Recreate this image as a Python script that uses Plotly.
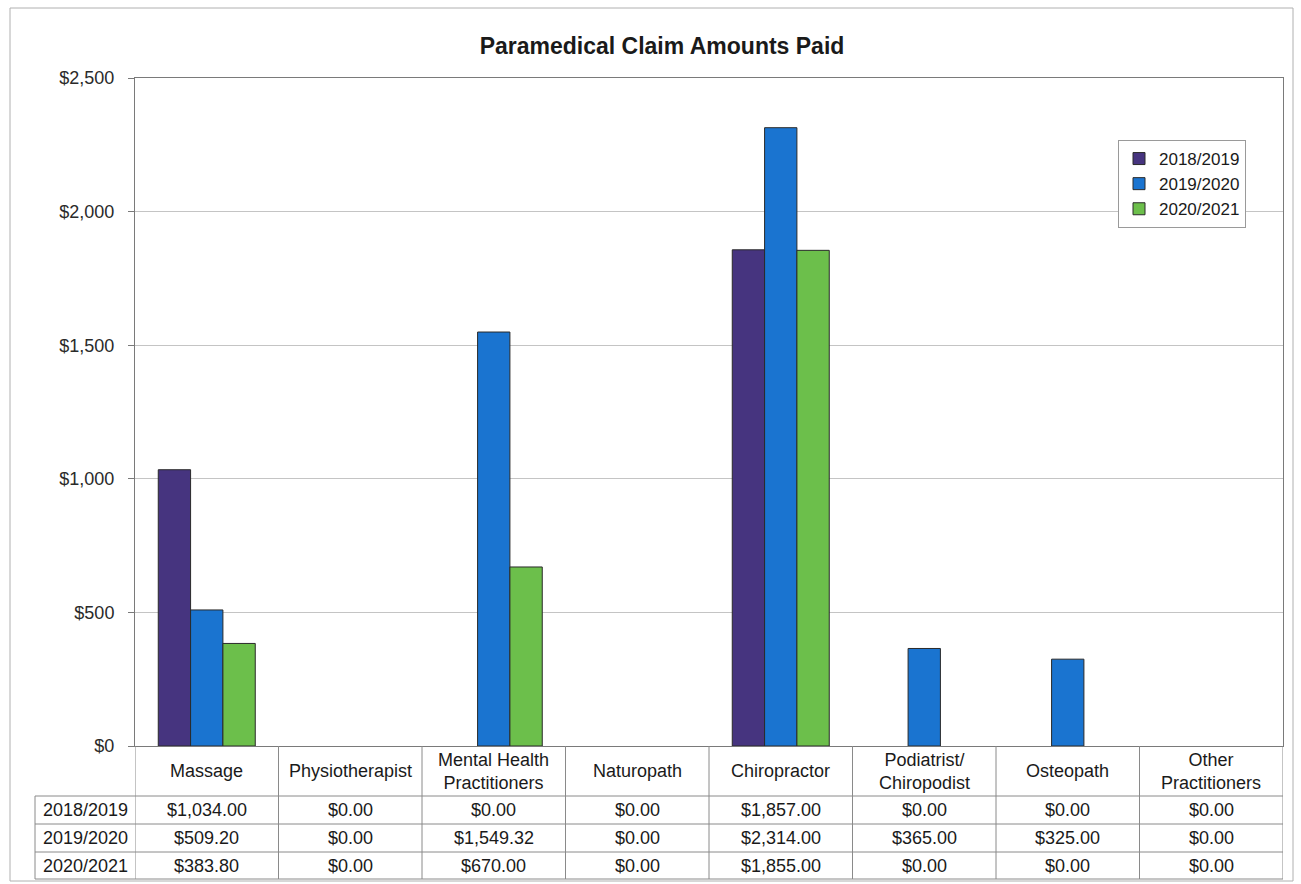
import plotly.graph_objects as go

categories = ["Massage", "Physiotherapist", "Mental Health Practitioners", "Naturopath",
              "Chiropractor", "Podiatrist/ Chiropodist", "Osteopath", "Other Practitioners"]
header_labels = ["Massage", "Physiotherapist", "Mental Health<br>Practitioners", "Naturopath",
                 "Chiropractor", "Podiatrist/<br>Chiropodist", "Osteopath", "Other<br>Practitioners"]
series_names = ["2018/2019", "2019/2020", "2020/2021"]
v_2018 = [1034.00, 0.00, 0.00, 0.00, 1857.00, 0.00, 0.00, 0.00]
v_2019 = [509.20, 0.00, 1549.32, 0.00, 2314.00, 365.00, 325.00, 0.00]
v_2020 = [383.80, 0.00, 670.00, 0.00, 1855.00, 0.00, 0.00, 0.00]
series_values = [v_2018, v_2019, v_2020]
colors = ["#46347f", "#1a74d0", "#6cbf4b"]
y_ticks = [0, 500, 1000, 1500, 2000, 2500]
y_tick_text = ["$" + f"{v:,}" for v in y_ticks]

W, H = 1301, 884
L, R, T, B = 135, 1283, 78, 746
PH = B - T
FONT = "Liberation Sans, Arial, sans-serif"


def py(pix):
    return (B - pix) / PH


def px(pix):
    return (pix - L) / (R - L)


fig = go.Figure()
for name, vals, col in zip(series_names, series_values, colors):
    fig.add_trace(go.Bar(
        x=categories, y=[v if v else None for v in vals], name=name,
        marker=dict(color=col, line=dict(color="#2a2a2a", width=1)),
    ))

shapes = []
annotations = []
line_col = "#8a8a8a"
row_y = [796, 824, 852, 879]
for yy in row_y:
    shapes.append(dict(type="line", xref="paper", yref="paper", x0=px(35), x1=1, y0=py(yy), y1=py(yy),
                       line=dict(color=line_col, width=1)))
for i in range(len(categories) + 1):
    shapes.append(dict(type="line", xref="x", yref="paper", x0=i - 0.5, x1=i - 0.5, y0=0, y1=py(879),
                       line=dict(color=line_col, width=1)))
shapes.append(dict(type="line", xref="paper", yref="paper", x0=px(35), x1=px(35), y0=py(796), y1=py(879),
                   line=dict(color=line_col, width=1)))
shapes.append(dict(type="rect", xref="paper", yref="paper", x0=px(10), x1=px(1293), y0=py(881), y1=py(8),
                   line=dict(color="#b0b0b0", width=1)))

tfont = dict(family=FONT, size=18, color="#1a1a1a")
for cat, lab in zip(categories, header_labels):
    annotations.append(dict(x=cat, xref="x", y=py(771), yref="paper", text=lab, showarrow=False,
                            xanchor="center", yanchor="middle", font=tfont, align="center"))
centers = [810, 838, 865.5]
for name, vals, cy in zip(series_names, series_values, centers):
    annotations.append(dict(x=px(85), xref="paper", y=py(cy), yref="paper", text=name, showarrow=False,
                            xanchor="center", yanchor="middle", font=tfont))
    for cat, v in zip(categories, vals):
        annotations.append(dict(x=cat, xref="x", y=py(cy), yref="paper", text=f"${v:,.2f}", showarrow=False,
                                xanchor="center", yanchor="middle", font=tfont))

fig.update_layout(
    width=W, height=H,
    margin=dict(l=L, r=W - R, t=T, b=H - B),
    paper_bgcolor="white", plot_bgcolor="white",
    barmode="group", bargap=0.324, bargroupgap=0,
    title=dict(text="<b>Paramedical Claim Amounts Paid</b>", x=662 / W, xanchor="center",
               y=1 - 46 / H, yanchor="middle", font=dict(family=FONT, size=23, color="#1a1a1a")),
    font=dict(family=FONT, color="#1a1a1a"),
    legend=dict(x=px(1118), y=py(140), xanchor="left", yanchor="top", bgcolor="white",
                bordercolor="#9a9a9a", borderwidth=1, font=dict(family=FONT, size=17, color="#1a1a1a"),
                itemwidth=30, tracegroupgap=0),
    shapes=shapes, annotations=annotations,
    xaxis=dict(range=[-0.5, len(categories) - 0.5], showticklabels=False, showgrid=False,
               showline=True, linecolor="#7a7a7a", mirror=True, ticks=""),
    yaxis=dict(range=[0, 2500], tickmode="array", tickvals=y_ticks, ticktext=y_tick_text,
               showgrid=True, gridcolor="#c4c4c4", gridwidth=1, zeroline=False,
               showline=True, linecolor="#7a7a7a", mirror=True,
               ticks="outside", ticklen=6, tickcolor="#7a7a7a", ticklabelstandoff=10,
               tickfont=dict(family=FONT, size=18, color="#2a2a2a")),
)

fig.write_html("out.html")
